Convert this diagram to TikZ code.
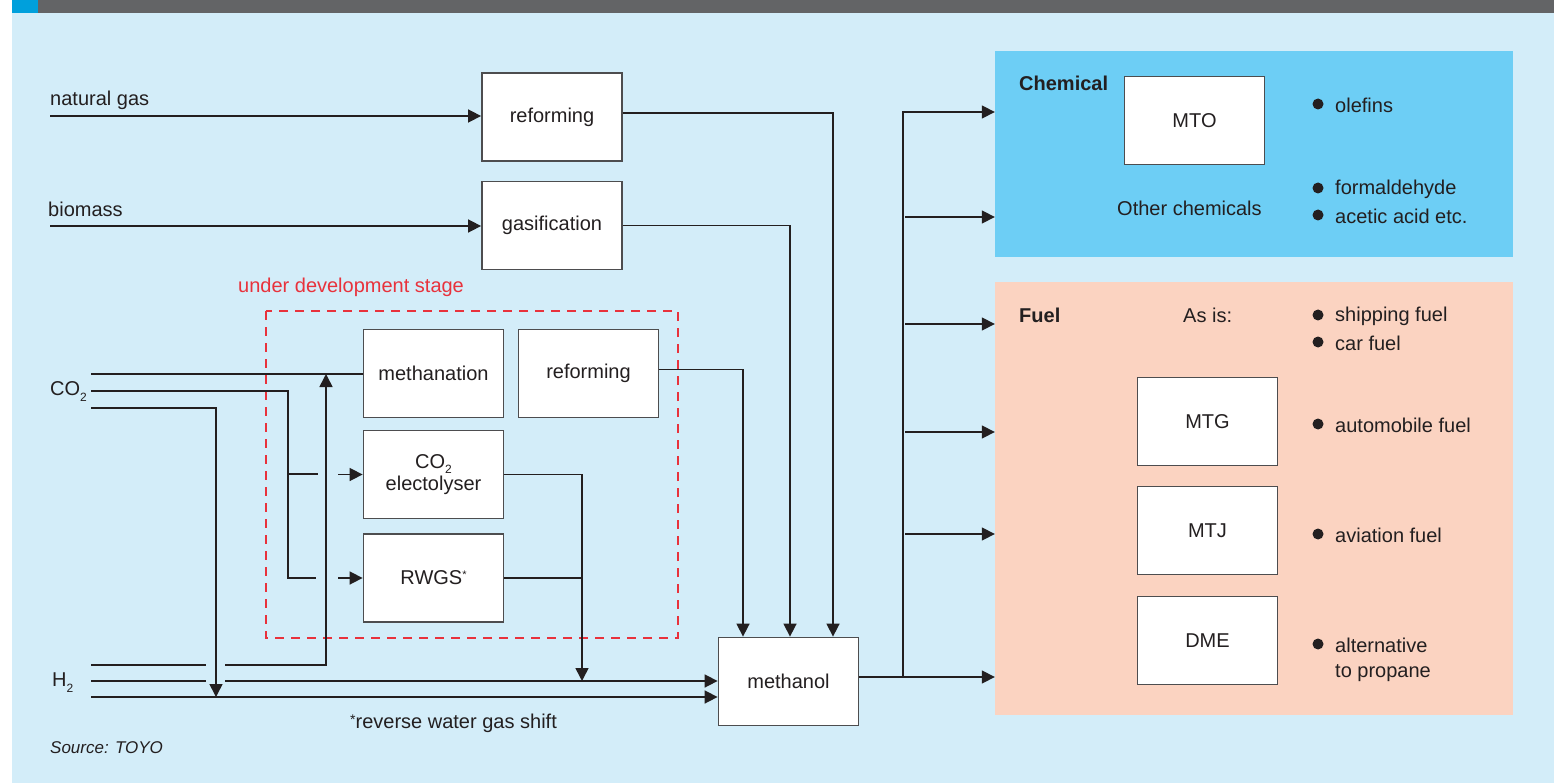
\documentclass[tikz,border=0pt]{standalone}
\usepackage{fontspec}
\setmainfont{Liberation Sans}
\usetikzlibrary{arrows.meta,calc}
\definecolor{bg}{HTML}{D3EDF9}
\definecolor{hdr}{HTML}{636466}
\definecolor{hdrblue}{HTML}{00A0DC}
\definecolor{chemc}{HTML}{6DCEF5}
\definecolor{fuelc}{HTML}{FBD3C1}
\definecolor{ink}{HTML}{231F20}
\definecolor{boxline}{HTML}{4D4D4F}
\definecolor{devred}{HTML}{E8323C}
\begin{document}
\begin{tikzpicture}[x=1pt,y=-1pt,
  every node/.style={font=\fontsize{20}{26}\selectfont, text=ink},
  procbox/.style={draw=boxline, fill=white, line width=1.8pt, minimum width=140pt, minimum height=88pt, inner sep=0pt, align=center},
  lbl/.style={anchor=west, inner sep=0pt},
  ln/.style={draw=ink, line width=1.6pt},
  arr/.style={-{Triangle[length=13pt,width=13pt]}},
  dot/.style={fill=ink}]
\useasboundingbox (0,0) rectangle (1554,783);
% background and header
\fill[bg] (12,13) rectangle (1554,783);
\fill[hdr] (12,0) rectangle (1554,13);
\fill[hdrblue] (12,0) rectangle (38,13);
% output areas
\node[fill=chemc, minimum width=518pt, minimum height=206pt, inner sep=0pt] (chem) at (1254,154) {};
\node[fill=fuelc, minimum width=518pt, minimum height=433pt, inner sep=0pt] (fuel) at (1254,498.5) {};
% under development frame
\draw[devred, line width=1.5pt, dash pattern=on 9pt off 7pt] (266,311) rectangle (678,638);
\node[lbl, text=devred] (dev) at (238,287) {under development stage};
% process boxes
\node[procbox] (ref1) at (552,117) {reforming};
\node[procbox] (gas) at (552,225.5) {gasification};
\node[procbox] (meth) at (433.5,373.5) {methanation};
\node[procbox] (ref2) at (588.5,373.5) {reforming};
\node[procbox] (elec) at (433.5,474.5) {CO\raisebox{-5pt}{\fontsize{12}{12}\selectfont 2}\\[-4pt]electolyser};
\node[procbox] (rwgs) at (433.5,578) {RWGS\raisebox{6pt}{\fontsize{11}{11}\selectfont *}};
\node[procbox] (meoh) at (788.5,681.5) {methanol};
\node[procbox] (mto) at (1194.5,120.5) {MTO};
\node[procbox] (mtg) at (1207.5,421.5) {MTG};
\node[procbox] (mtj) at (1207.5,530.5) {MTJ};
\node[procbox] (dme) at (1207.5,640.5) {DME};
% feed labels
\node[lbl] (ngl) at (50,100) {natural gas};
\node[lbl] (bml) at (48,209) {biomass};
\node[lbl] (co2l) at (50,392) {CO\raisebox{-6pt}{\fontsize{12}{12}\selectfont 2}};
\node[lbl] (h2l) at (52,683) {H\raisebox{-6pt}{\fontsize{12}{12}\selectfont 2}};
\node[lbl] (note) at (350,723) {\raisebox{4pt}{\fontsize{14}{14}\selectfont *}reverse water gas shift};
\node[lbl, font=\fontsize{17}{20}\selectfont\itshape] (src) at (50,748) {Source: TOYO};
% feed coordinates
\coordinate (ng) at (50,116);
\coordinate (bm) at (50,226);
\coordinate (c1) at (91,374);
\coordinate (c2) at (91,391);
\coordinate (c3) at (91,408);
\coordinate (h1) at (91,665);
\coordinate (h2) at (91,681);
\coordinate (h3) at (91,697);
\coordinate (up) at (326,374);
\coordinate (bus) at (903,677);
% top feeds
\draw[ln,arr] (ng) -- (ng -| ref1.west);
\draw[ln,arr] (bm) -- (bm -| gas.west);
% CO2 lines
\draw[ln] (c1) -- (c1 -| meth.west);
\draw[ln] (c2) -| (288,578) -- (316,578);
\draw[ln] (288,474) -- (318,474);
\draw[ln,arr] (338,474.5) -- (elec.west);
\draw[ln,arr] (338,578) -- (rwgs.west);
\draw[ln,arr] (c3) -| (216,697);
% H2 lines
\draw[ln] (h1) -- (206,665);
\draw[ln,arr] (225,665) -| (up);
\draw[ln] (h2) -- (206,681);
\draw[ln,arr] (225,681) -- (225,681 -| meoh.west);
\draw[ln,arr] (h3) -- (h3 -| meoh.west);
% process outputs
\draw[ln,arr] (elec.east) -| (582,681);
\draw[ln] (rwgs.east) -- (582,578);
\draw[ln,arr] ([yshift=4pt]ref2.east) -| ([xshift=-45.5pt]meoh.north);
\draw[ln,arr] (gas.east) -| ([xshift=1.5pt]meoh.north);
\draw[ln,arr] ([yshift=4pt]ref1.east) -| ([xshift=44.5pt]meoh.north);
% methanol distribution
\draw[ln] ([yshift=4.5pt]meoh.east) -- (bus);
\draw[ln,arr] (bus) -- (bus -| fuel.west);
\draw[ln,arr] (bus) -- (903,112) -- (903,112 -| chem.west);
\draw[ln,arr] (905,217) -- (905,217 -| chem.west);
\draw[ln,arr] (905,324) -- (905,324 -| fuel.west);
\draw[ln,arr] (905,432) -- (905,432 -| fuel.west);
\draw[ln,arr] (905,534) -- (905,534 -| fuel.west);
% chemical texts
\node[lbl, font=\fontsize{20}{24}\selectfont\bfseries] (chemt) at (1019,83) {Chemical};
\node[lbl] (oth) at (1117,208) {Other chemicals};
\fill[dot] (1318,104) circle (5.5);
\node[lbl] (t1) at (1335,105) {olefins};
\fill[dot] (1318,188) circle (5.5);
\node[lbl] (t2) at (1335,189) {formaldehyde};
\fill[dot] (1318,215) circle (5.5);
\node[lbl] (t3) at (1335,216) {acetic acid etc.};
% fuel texts
\node[lbl, font=\fontsize{20}{24}\selectfont\bfseries] (fuelt) at (1019,315) {Fuel};
\node[lbl] (asis) at (1183,315) {As is:};
\fill[dot] (1318,315) circle (5.5);
\node[lbl] (t4) at (1335,316) {shipping fuel};
\fill[dot] (1318,342) circle (5.5);
\node[lbl] (t5) at (1335,343) {car fuel};
\fill[dot] (1318,424) circle (5.5);
\node[lbl] (t6) at (1335,425) {automobile fuel};
\fill[dot] (1318,534) circle (5.5);
\node[lbl] (t7) at (1335,535) {aviation fuel};
\fill[dot] (1318,644) circle (5.5);
\node[lbl] (t8) at (1335,645) {alternative};
\node[lbl] (t9) at (1335,673) {to propane};
\end{tikzpicture}
\end{document}
